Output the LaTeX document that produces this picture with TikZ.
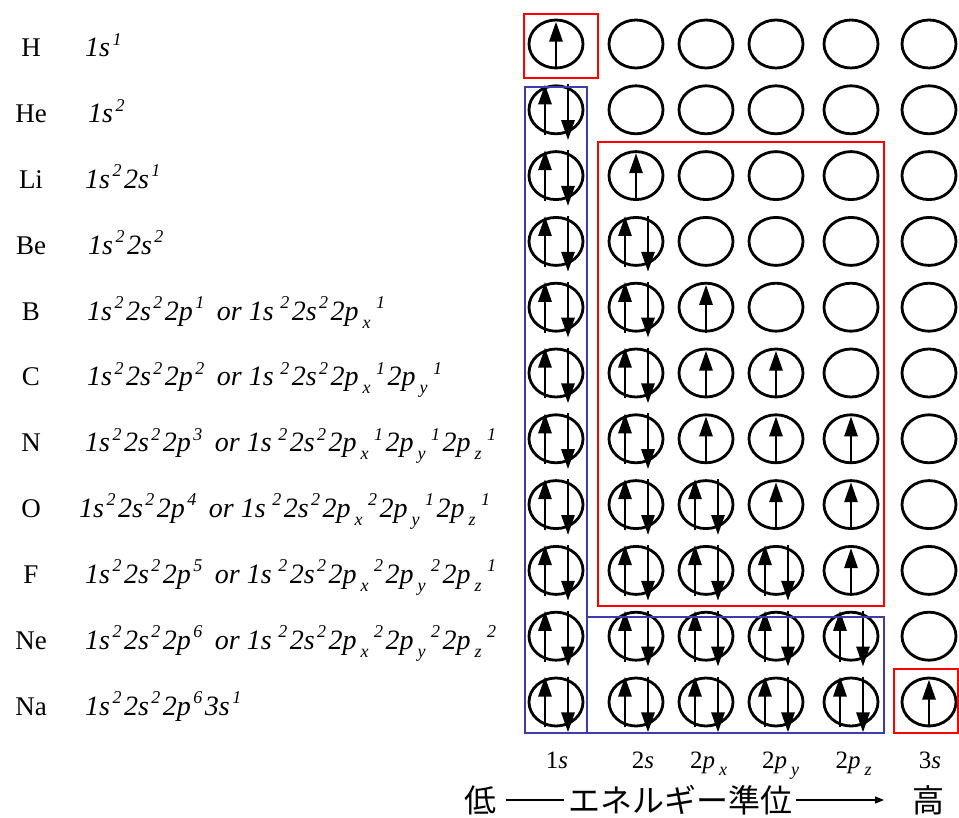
\documentclass[tikz,border=0pt]{standalone}
\usepackage{fontspec}
\setmainfont{Liberation Serif}
\newfontfamily\jpfont{Noto Sans CJK JP}
\usetikzlibrary{arrows.meta, shapes.geometric}

\newcommand\supr[1]{\kern2.5pt\raisebox{0.42em}{\fontsize{18}{18}\selectfont #1}\kern2.5pt}
\newcommand\subr[1]{\kern4pt\raisebox{-0.28em}{\fontsize{18}{18}\selectfont #1}\kern3pt}
\newcommand\orsep{\hspace{10pt}or }

\tikzset{
  orb/.style={ellipse, draw, line width=2.8pt, minimum width=54pt, minimum height=48pt, inner sep=0pt},
  spin/.style={line width=2.8pt, -{Triangle[length=20pt,width=13pt]}},
  elem/.style={font=\fontsize{27}{30}\selectfont, anchor=base},
  conf/.style={font=\fontsize{28}{30}\selectfont\itshape, anchor=base west, inner sep=0pt},
  lab/.style={font=\fontsize{25}{28}\selectfont},
  jp/.style={font=\fontsize{32}{36}\selectfont\jpfont},
  frame/.style={line width=1.5pt}
}
\definecolor{boxblue}{RGB}{60,60,170}

\begin{document}
\begin{tikzpicture}[x=1pt, y=-1pt]
  \useasboundingbox (0,0) rectangle (959,818);
  % orbitals: 0 empty, 1 up, 2 pair
  \foreach \occ [count=\k] in {{1,0,0,0,0,0},{2,0,0,0,0,0},{2,1,0,0,0,0},{2,2,0,0,0,0},
      {2,2,1,0,0,0},{2,2,1,1,0,0},{2,2,1,1,1,0},{2,2,2,1,1,0},{2,2,2,2,1,0},
      {2,2,2,2,2,0},{2,2,2,2,2,1}} {
    \pgfmathsetmacro\yy{44+65.8*(\k-1)}
    \foreach \n [count=\j] in \occ {
      \pgfmathsetmacro\xx{{556,636,706,776,851,929}[\j-1]}
      \node[orb] (o-\k-\j) at (\xx,\yy) {};
      \ifnum\n=1
        \draw[spin] (o-\k-\j.south) -- ([yshift=-3pt]o-\k-\j.north);
      \fi
      \ifnum\n=2
        \draw[spin] ([xshift=-11pt]o-\k-\j.south) -- ([xshift=-11pt]o-\k-\j.north);
        \draw[spin] ([xshift=12pt]o-\k-\j.north) -- ([xshift=12pt,yshift=-5pt]o-\k-\j.south);
      \fi
    }
  }
  % element symbols and configurations
  \foreach \sym/\cfg/\cx [count=\k] in {
      H/{1s\supr{1}}/85,
      He/{1s\supr{2}}/88,
      Li/{1s\supr{2}2s\supr{1}}/85,
      Be/{1s\supr{2}2s\supr{2}}/88,
      B/{1s\supr{2}2s\supr{2}2p\supr{1}\orsep 1s\kern4pt\supr{2}2s\supr{2}2p\subr{x}\supr{1}}/87,
      C/{1s\supr{2}2s\supr{2}2p\supr{2}\orsep 1s\kern4pt\supr{2}2s\supr{2}2p\subr{x}\supr{1}2p\subr{y}\supr{1}}/87,
      N/{1s\supr{2}2s\supr{2}2p\supr{3}\orsep 1s\kern4pt\supr{2}2s\supr{2}2p\subr{x}\supr{1}2p\subr{y}\supr{1}2p\subr{z}\supr{1}}/85,
      O/{1s\supr{2}2s\supr{2}2p\supr{4}\orsep 1s\kern4pt\supr{2}2s\supr{2}2p\subr{x}\supr{2}2p\subr{y}\supr{1}2p\subr{z}\supr{1}}/79,
      F/{1s\supr{2}2s\supr{2}2p\supr{5}\orsep 1s\kern4pt\supr{2}2s\supr{2}2p\subr{x}\supr{2}2p\subr{y}\supr{2}2p\subr{z}\supr{1}}/85,
      Ne/{1s\supr{2}2s\supr{2}2p\supr{6}\orsep 1s\kern4pt\supr{2}2s\supr{2}2p\subr{x}\supr{2}2p\subr{y}\supr{2}2p\subr{z}\supr{2}}/85,
      Na/{1s\supr{2}2s\supr{2}2p\supr{6}3s\supr{1}}/85} {
    \pgfmathsetmacro\yy{57+65.8*(\k-1)}
    \node[elem] (sym-\k) at (31,\yy) {\sym};
    \node[conf] (cfg-\k) at (\cx,\yy) {\cfg};
  }
  % frames
  \draw[frame, red] (524,14) rectangle (598,78);
  \draw[frame, boxblue] (525,87) rectangle (587,733);
  \draw[frame, boxblue] (587,617) rectangle (884,733);
  \draw[frame, red] (598,142) rectangle (884,606);
  \draw[frame, red] (894,669) rectangle (958,733);
  % column labels
  \foreach \txt/\xx [count=\k] in {1\textit{s}/557, 2\textit{s}/643, 2\textit{p}\subr{\textit{x}}/710,
      2\textit{p}\subr{\textit{y}}/782, 2\textit{p}\subr{\textit{z}}/855, 3\textit{s}/930}
    \node[lab, anchor=base] (lab-\k) at (\xx,768) {\txt};
  % energy axis
  \node[jp] (low) at (480,800) {低};
  \node[jp] (lvl) at (680,800) {エネルギー準位};
  \node[jp] (high) at (928,800) {高};
  \coordinate (axend) at (884,800);
  \draw[line width=1.2pt] ([xshift=6pt]low.east) -- (lvl.west);
  \draw[line width=1.2pt, -{Triangle[length=9pt,width=7pt]}] (lvl.east) -- (axend);
\end{tikzpicture}
\end{document}
